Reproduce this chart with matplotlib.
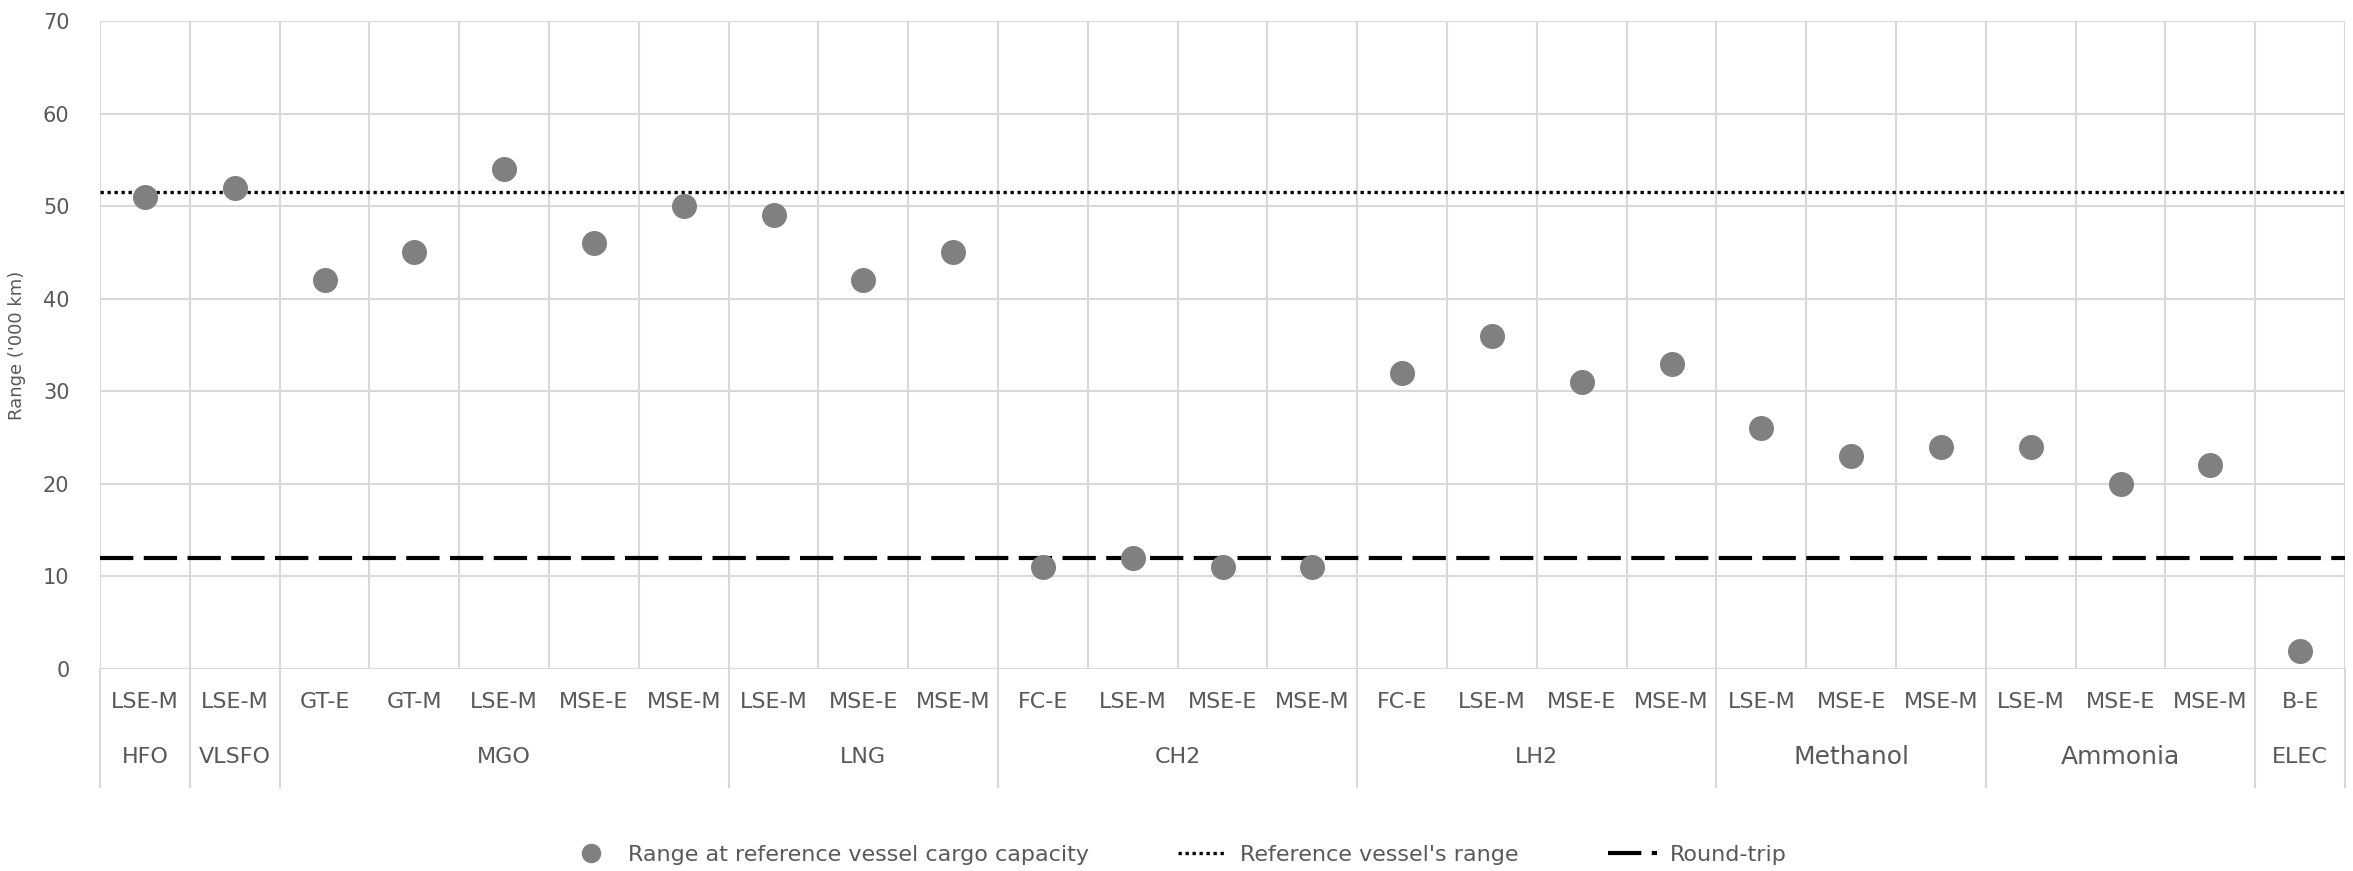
import matplotlib.pyplot as plt
import matplotlib.transforms as mtransforms
from matplotlib.lines import Line2D

# data
fuels = ['HFO', 'VLSFO', 'MGO', 'LNG', 'CH2', 'LH2', 'Methanol', 'Ammonia', 'ELEC']
engines = [
    ['LSE-M'],
    ['LSE-M'],
    ['GT-E', 'GT-M', 'LSE-M', 'MSE-E', 'MSE-M'],
    ['LSE-M', 'MSE-E', 'MSE-M'],
    ['FC-E', 'LSE-M', 'MSE-E', 'MSE-M'],
    ['FC-E', 'LSE-M', 'MSE-E', 'MSE-M'],
    ['LSE-M', 'MSE-E', 'MSE-M'],
    ['LSE-M', 'MSE-E', 'MSE-M'],
    ['B-E'],
]
range_values = [51, 52, 42, 45, 54, 46, 50, 49, 42, 45, 11, 12, 11, 11,
                32, 36, 31, 33, 26, 23, 24, 24, 20, 22, 2]
reference_range = 51.5
round_trip = 12

TEXT_COLOR = '#595959'
GRID_COLOR = '#d9d9d9'
FONT = ['Liberation Sans Narrow', 'DejaVu Sans']
TICK_SIZE = 14
plt.rcParams['font.family'] = FONT

fig = plt.figure(figsize=(23.53, 8.71), dpi=100)
ax = fig.add_axes([0.0425, 0.2319, 0.9541, 0.7440])

n = len(range_values)
x_lst = list(range(n))

ax.plot(x_lst, range_values, 'o', color='#808080', markersize=17, zorder=3,
        label='Range at reference vessel cargo capacity')
ax.axhline(reference_range, color='black', linestyle=(0, (1, 1.1)), linewidth=2.4,
           zorder=2, label="Reference vessel's range")
ax.axhline(round_trip, color='black', linestyle=(0, (8, 2.5)), linewidth=3,
           zorder=2, label='Round-trip')

ax.set_xlim(-0.5, n - 0.5)
ax.set_ylim(0, 70)
ax.set_yticks(range(0, 71, 10))
ax.set_xticks([])
ax.set_xticks([i - 0.5 for i in range(n + 1)], minor=True)
ax.grid(True, which='major', axis='y', color=GRID_COLOR, linewidth=1.5)
ax.grid(True, which='minor', axis='x', color=GRID_COLOR, linewidth=1.5)
ax.set_axisbelow(True)
for s in ax.spines.values():
    s.set_visible(False)
ax.tick_params(axis='both', which='both', length=0)
ax.tick_params(axis='y', labelsize=TICK_SIZE + 1, labelcolor=TEXT_COLOR, pad=22)
ax.set_ylabel("Range ('000 km)", fontsize=TICK_SIZE - 1, color=TEXT_COLOR, labelpad=12)

# two-level category axis
trans = mtransforms.blended_transform_factory(ax.transData, ax.transAxes)
pos = 0
ax.plot([-0.5, -0.5], [0, -0.182], color=GRID_COLOR, linewidth=1.5,
        transform=trans, clip_on=False)
for fuel, eng in zip(fuels, engines):
    for j, e in enumerate(eng):
        ax.text(pos + j, -0.051, e, transform=trans, ha='center', va='center',
                fontsize=TICK_SIZE + 2, color=TEXT_COLOR)
    mid = pos + (len(eng) - 1) / 2
    fsize = TICK_SIZE + 4 if fuel in ('Methanol', 'Ammonia') else TICK_SIZE + 2
    ax.text(mid, -0.136, fuel, transform=trans, ha='center', va='center',
            fontsize=fsize, color=TEXT_COLOR)
    pos += len(eng)
    ax.plot([pos - 0.5, pos - 0.5], [0, -0.182], color=GRID_COLOR, linewidth=1.5,
            transform=trans, clip_on=False)

handles = [
    Line2D([], [], marker='o', linestyle='none', color='#808080', markersize=13),
    Line2D([], [], color='black', linestyle=(0, (1, 1.1)), linewidth=2.4),
    Line2D([], [], color='black', linestyle=(0, (8, 2.5)), linewidth=3),
]
labels = ['Range at reference vessel cargo capacity', "Reference vessel's range", 'Round-trip']
leg = fig.legend(handles, labels, loc='center', bbox_to_anchor=(0.5, 1 - 855 / 871),
                 ncol=3, frameon=False, fontsize=TICK_SIZE + 2, columnspacing=4,
                 handlelength=2.2, handletextpad=0.6)
for t in leg.get_texts():
    t.set_color(TEXT_COLOR)

fig.savefig('out.png', dpi=100)
